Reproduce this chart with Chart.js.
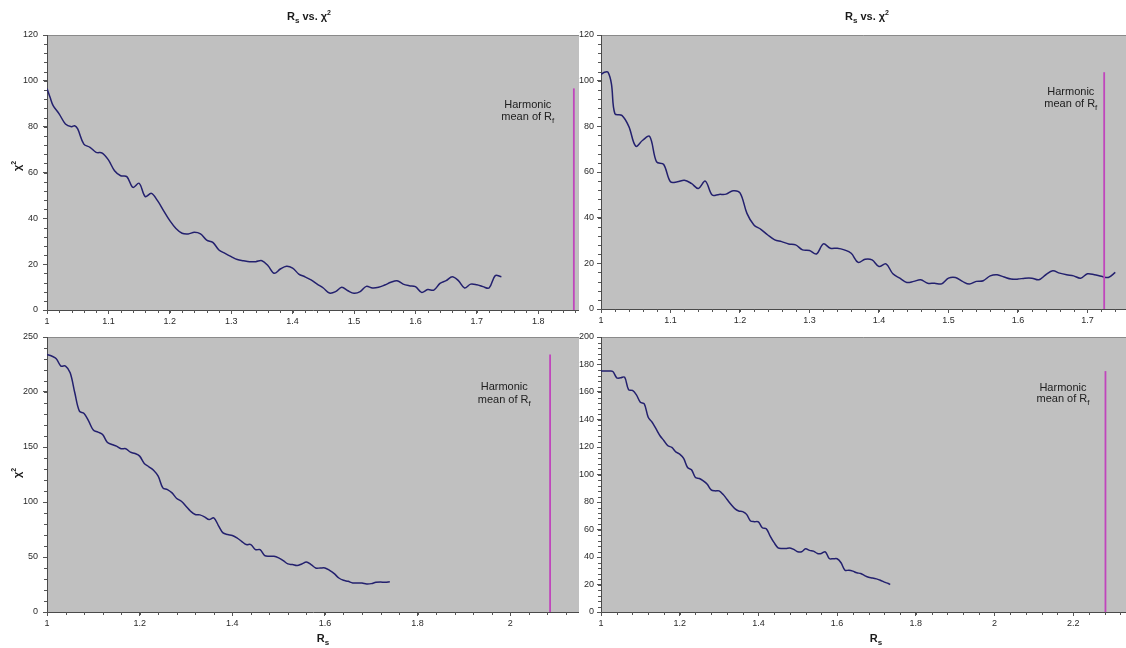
<!DOCTYPE html>
<html>
<head>
<meta charset="utf-8">
<script src="https://cdn.jsdelivr.net/npm/chart.js@4.4.1/dist/chart.umd.min.js"></script>
<style>
  html, body { margin: 0; padding: 0; background: #ffffff; }
  body { width: 1126px; height: 648px; position: relative; overflow: hidden; }
  canvas { position: absolute; }
</style>
</head>
<body>
<canvas id="tl" width="579" height="330" style="left:0px;top:0px;"></canvas>
<canvas id="tr" width="547" height="330" style="left:579px;top:0px;"></canvas>
<canvas id="bl" width="579" height="318" style="left:0px;top:330px;"></canvas>
<canvas id="br" width="547" height="318" style="left:579px;top:330px;"></canvas>
<script>
// ---------- DATA ----------
// Panel 1 (top-left)
const rsTL = [1.0,1.005,1.01,1.02,1.03,1.04,1.045,1.05,1.06,1.07,1.08,1.09,1.1,1.11,1.12,1.13,1.14,1.15,1.16,1.17,1.18,1.19,1.2,1.21,1.22,1.23,1.24,1.25,1.26,1.27,1.28,1.29,1.3,1.31,1.32,1.33,1.34,1.35,1.36,1.37,1.38,1.39,1.4,1.41,1.42,1.43,1.44,1.45,1.46,1.47,1.48,1.49,1.5,1.51,1.52,1.53,1.54,1.55,1.56,1.57,1.58,1.59,1.6,1.61,1.62,1.63,1.64,1.65,1.66,1.67,1.68,1.69,1.7,1.71,1.72,1.73,1.74];
const chiTL = [96.7,92.8,89.2,85.5,81.2,80.0,80.4,79.0,72.4,71.0,68.8,68.5,65.5,60.8,58.6,58.2,53.5,55.3,49.5,50.9,47.7,43.3,39.0,35.6,33.5,33.2,33.9,33.2,30.5,29.5,26.2,24.7,23.3,22.0,21.5,21.1,21.1,21.5,19.3,16.0,17.9,19.1,18.3,15.7,14.5,13.1,11.3,9.6,7.4,8.0,9.9,8.4,7.3,8.0,10.3,9.6,9.9,10.9,12.1,12.8,11.3,10.6,10.2,7.7,8.9,8.7,11.6,12.8,14.5,12.8,9.6,11.3,11.0,10.2,9.6,15.0,14.5];

// Panel 2 (top-right)
const rsTR = [1.0,1.005,1.01,1.015,1.02,1.03,1.04,1.05,1.06,1.07,1.08,1.09,1.1,1.11,1.12,1.13,1.14,1.15,1.16,1.17,1.18,1.19,1.2,1.21,1.22,1.23,1.24,1.25,1.26,1.27,1.28,1.29,1.3,1.31,1.32,1.33,1.34,1.35,1.36,1.37,1.38,1.39,1.4,1.41,1.42,1.43,1.44,1.45,1.46,1.47,1.48,1.49,1.5,1.51,1.52,1.53,1.54,1.55,1.56,1.57,1.58,1.59,1.6,1.61,1.62,1.63,1.64,1.65,1.66,1.67,1.68,1.69,1.7,1.71,1.72,1.73,1.74];
const chiTR = [102.7,103.7,103.7,98.6,85.5,84.8,80.0,71.3,73.9,75.6,64.4,63.4,55.7,55.7,56.4,55.0,52.8,56.0,49.9,50.2,50.3,51.8,50.9,41.9,36.8,34.9,32.4,30.3,29.5,28.5,28.1,25.9,25.6,24.1,28.5,26.6,26.6,25.9,24.4,20.4,21.8,21.5,18.6,19.8,15.4,13.5,11.6,12.1,12.8,11.3,11.3,11.0,13.5,13.8,12.1,10.9,12.1,12.4,14.5,15.0,14.0,13.1,13.1,13.5,13.5,12.8,15.0,16.7,15.7,15.0,14.5,13.5,15.4,15.0,14.3,13.8,16.0];

// Panel 3 (bottom-left)
const rsBL = [1.0,1.01,1.02,1.03,1.04,1.05,1.06,1.07,1.08,1.09,1.1,1.11,1.12,1.13,1.14,1.15,1.16,1.17,1.18,1.19,1.2,1.21,1.22,1.23,1.24,1.25,1.26,1.27,1.28,1.29,1.3,1.31,1.32,1.33,1.34,1.35,1.36,1.37,1.38,1.39,1.4,1.41,1.42,1.43,1.44,1.45,1.46,1.47,1.48,1.49,1.5,1.51,1.52,1.53,1.54,1.55,1.56,1.57,1.58,1.59,1.6,1.61,1.62,1.63,1.64,1.65,1.66,1.67,1.68,1.69,1.7,1.71,1.72,1.73,1.74];
const chiBL = [234.2,232.7,230.3,223.6,223.6,217.5,199.3,182.6,180.5,173.5,165.4,163.5,161.4,154.4,152.3,150.8,148.4,148.4,145.3,144.1,141.7,135.0,132.0,128.9,123.5,112.9,111.3,108.3,103.2,100.7,96.2,91.6,88.6,88.3,86.5,84.0,85.6,78.6,71.9,70.4,69.5,67.4,64.3,61.3,61.3,56.7,56.7,51.3,50.7,50.7,49.2,46.7,43.7,43.1,42.2,43.7,45.5,43.1,40.0,40.0,40.0,37.9,34.9,30.9,28.8,27.9,26.4,26.4,26.4,25.5,25.8,27.0,27.3,27.0,27.6];

// Panel 4 (bottom-right)
const rsBR = [1.0,1.01,1.02,1.03,1.04,1.05,1.06,1.07,1.08,1.09,1.1,1.11,1.12,1.13,1.14,1.15,1.16,1.17,1.18,1.19,1.2,1.21,1.22,1.23,1.24,1.25,1.26,1.27,1.28,1.29,1.3,1.31,1.32,1.33,1.34,1.35,1.36,1.37,1.38,1.39,1.4,1.41,1.42,1.43,1.44,1.45,1.46,1.47,1.48,1.49,1.5,1.51,1.52,1.53,1.54,1.55,1.56,1.57,1.58,1.59,1.6,1.61,1.62,1.63,1.64,1.65,1.66,1.67,1.68,1.69,1.7,1.71,1.72,1.73,1.735];
const chiBR = [175.2,175.2,175.2,174.9,170.3,170.3,170.8,161.8,161.1,157.9,152.6,151.3,141.6,138.0,133.1,128.2,124.6,120.9,119.7,116.5,114.8,111.7,105.1,103.4,97.8,97.1,95.4,92.9,88.8,88.1,88.1,85.6,82.0,78.3,75.2,73.5,73.0,71.0,66.2,65.7,65.5,61.3,60.6,55.2,50.4,46.7,46.2,46.2,46.5,45.5,43.8,43.8,46.0,44.8,44.3,42.6,42.6,43.8,38.9,38.7,38.7,35.8,30.4,30.4,29.7,28.5,28.0,26.5,25.3,24.8,24.1,23.1,21.7,20.7,20.0];

// Harmonic mean of R_f for each panel (TL, TR, BL, BR)
const harmonicMeans = [1.858, 1.724, 2.086, 2.282];

// Axis ranges / tick steps (TL, TR, BL, BR)
const xMaxes  = [1.8664, 1.7554, 2.1484, 2.3342];
const xSteps  = [0.1, 0.1, 0.2, 0.2];
const yMaxes  = [120, 120, 250, 200];
const ySteps  = [20, 20, 50, 20];

const titleText = ['R', 's', ' vs. \u03C7', '2'];
const annotText = ['Harmonic', 'mean of R', 'f'];

// ---------- RENDER ----------
const FONT = 'Arial, "Liberation Sans", sans-serif';

function drawRich(ctx, parts, x, y) {
  let w = 0;
  parts.forEach(p => { ctx.font = p.f; w += ctx.measureText(p.t).width; });
  let cx = x - w / 2;
  ctx.textAlign = 'left';
  ctx.textBaseline = 'alphabetic';
  parts.forEach(p => { ctx.font = p.f; ctx.fillText(p.t, cx, y + (p.dy || 0)); cx += ctx.measureText(p.t).width; });
}

const decor = {
  id: 'decor',
  beforeDraw(chart, args, o) {
    const { ctx, chartArea: a } = chart;
    ctx.save();
    ctx.fillStyle = '#c0c0c0';
    ctx.fillRect(a.left, a.top, a.right - a.left, a.bottom - a.top);
    ctx.strokeStyle = '#8a8a8a';
    ctx.lineWidth = 1;
    ctx.beginPath();
    ctx.moveTo(a.left, a.top + 0.5);
    ctx.lineTo(a.right, a.top + 0.5);
    ctx.stroke();
    ctx.restore();
  },
  afterDraw(chart, args, o) {
    const { ctx, chartArea: a } = chart;
    const xs = chart.scales.x, ys = chart.scales.y;
    ctx.save();
    // minor ticks
    ctx.strokeStyle = '#555';
    ctx.lineWidth = 1;
    ctx.beginPath();
    const mx = xs.options.ticks.stepSize / 5;
    for (let v = xs.min; v <= xs.max + 1e-9; v += mx) {
      const px = Math.round(xs.getPixelForValue(v)) + 0.5;
      ctx.moveTo(px, a.bottom); ctx.lineTo(px, a.bottom + 3);
    }
    const my = ys.options.ticks.stepSize / 5;
    for (let v = ys.min; v <= ys.max + 1e-9; v += my) {
      const py = Math.round(ys.getPixelForValue(v)) + 0.5;
      ctx.moveTo(a.left - 3, py); ctx.lineTo(a.left, py);
    }
    ctx.stroke();

    ctx.fillStyle = '#1a1a1a';
    // chart title
    if (o.title) {
      drawRich(ctx, [
        { t: titleText[0], f: 'bold 11px ' + FONT },
        { t: titleText[1], f: 'bold 8px ' + FONT, dy: 3 },
        { t: titleText[2], f: 'bold 11px ' + FONT },
        { t: titleText[3], f: 'bold 7px ' + FONT, dy: -5 }
      ], o.title.x, o.title.y);
    }
    // y-axis title
    if (o.yTitle) {
      ctx.save();
      ctx.translate(o.yTitle.x, o.yTitle.y);
      ctx.rotate(-Math.PI / 2);
      drawRich(ctx, [
        { t: '\u03C7', f: 'bold 11px ' + FONT },
        { t: '2', f: 'bold 7px ' + FONT, dy: -5 }
      ], 0, 4);
      ctx.restore();
    }
    // x-axis title
    if (o.xTitle) {
      drawRich(ctx, [
        { t: 'R', f: 'bold 11px ' + FONT },
        { t: 's', f: 'bold 8px ' + FONT, dy: 3 }
      ], o.xTitle.x, o.xTitle.y);
    }
    // annotation
    if (o.annot) {
      ctx.fillStyle = '#202020';
      const ax = xs.getPixelForValue(o.annot.x);
      drawRich(ctx, [{ t: annotText[0], f: '11px ' + FONT }], ax, ys.getPixelForValue(o.annot.y1) + 4);
      drawRich(ctx, [
        { t: annotText[1], f: '11px ' + FONT },
        { t: annotText[2], f: '8px ' + FONT, dy: 3 }
      ], ax, ys.getPixelForValue(o.annot.y2) + 4);
    }
    ctx.restore();
  }
};

function fmt(v) { return String(Number(v.toFixed(2))); }

function makeChart(id, idx, rs, chi, lay, dec) {
  const curve = rs.map((r, i) => ({ x: r, y: chi[i] }));
  const top = Math.max(...chi);
  const hm = [{ x: harmonicMeans[idx], y: 0 }, { x: harmonicMeans[idx], y: top }];
  return new Chart(document.getElementById(id), {
    type: 'line',
    data: {
      datasets: [
        { data: hm, borderColor: '#c046bc', borderWidth: 1.8, pointRadius: 0, tension: 0, fill: false },
        { data: curve, borderColor: '#23206e', borderWidth: 1.5, pointRadius: 0, tension: 0.35, fill: false }
      ]
    },
    options: {
      responsive: false,
      animation: false,
      devicePixelRatio: 1,
      events: [],
      layout: { padding: { top: lay.top, left: 0, right: 0, bottom: lay.bottom } },
      plugins: { legend: { display: false }, tooltip: { enabled: false }, title: { display: false }, decor: dec },
      scales: {
        x: {
          type: 'linear', min: 1, max: xMaxes[idx],
          ticks: { stepSize: xSteps[idx], includeBounds: false, autoSkip: false, maxRotation: 0, padding: 2,
                   color: '#2a2a2a', font: { size: 9, family: FONT }, callback: fmt },
          grid: { drawOnChartArea: false, drawTicks: true, tickLength: 4, color: '#555' },
          border: { display: true, color: '#4a4a4a', width: 1 },
          afterFit(s) { s.height = lay.xh; s.paddingLeft = 0; s.paddingRight = 0; }
        },
        y: {
          type: 'linear', min: 0, max: yMaxes[idx],
          ticks: { stepSize: ySteps[idx], includeBounds: false, padding: lay.ypad,
                   color: '#2a2a2a', font: { size: 9, family: FONT }, callback: fmt },
          grid: { drawOnChartArea: false, drawTicks: true, tickLength: 4, color: '#555' },
          border: { display: true, color: '#4a4a4a', width: 1 },
          afterFit(s) { s.width = lay.yw; s.paddingTop = 0; s.paddingBottom = 0; }
        }
      }
    },
    plugins: [decor]
  });
}

makeChart('tl', 0, rsTL, chiTL, { top: 35, bottom: 0, xh: 20, yw: 47, ypad: 5 },
  { title: { x: 309, y: 20 }, yTitle: { x: 17, y: 166 }, annot: { x: 1.783, y1: 89.9, y2: 84.7 } });
makeChart('tr', 1, rsTR, chiTR, { top: 35, bottom: 0, xh: 21, yw: 22, ypad: 3 },
  { title: { x: 288, y: 20 }, annot: { x: 1.676, y1: 95.5, y2: 90.1 } });
makeChart('bl', 2, rsBL, chiBL, { top: 7, bottom: 16, xh: 20, yw: 47, ypad: 5 },
  { yTitle: { x: 17, y: 143 }, xTitle: { x: 323, y: 312 }, annot: { x: 1.987, y1: 205.8, y2: 193.7 } });
makeChart('br', 3, rsBR, chiBR, { top: 7, bottom: 16, xh: 20, yw: 22, ypad: 3 },
  { xTitle: { x: 297, y: 312 }, annot: { x: 2.174, y1: 163.9, y2: 155.7 } });
</script>
</body>
</html>
